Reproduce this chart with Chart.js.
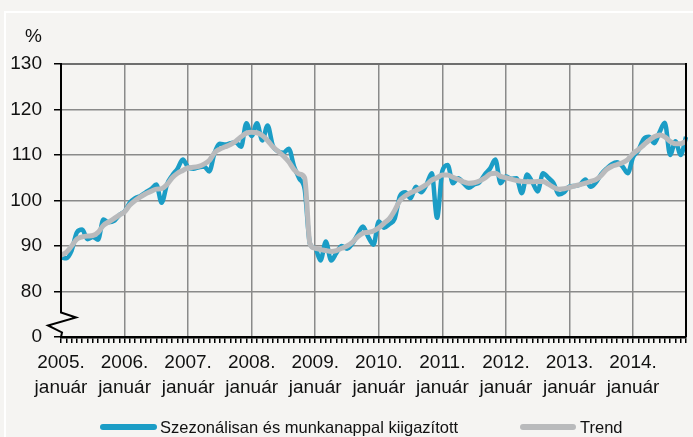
<!DOCTYPE html>
<html>
<head>
<meta charset="utf-8">
<script src="https://cdn.jsdelivr.net/npm/chart.js@4/dist/chart.umd.min.js"></script>
<style>
html,body{margin:0;padding:0;background:#f5f4f2;}
#wrap{width:693px;height:437px;position:relative;}
</style>
</head>
<body>
<div id="wrap"><canvas id="c" width="693" height="437"></canvas></div>
<script>
const years = ['2005','2006','2007','2008','2009','2010','2011','2012','2013','2014'];
const monthCount = 119;
const januaryLabel = 'január';
const yTickLabels = {70:'0',80:'80',90:'90',100:'100',110:'110',120:'120',130:'130'};
const unitLabel = '%';
const seriesNames = ['Szezonálisan és munkanappal kiigazított', 'Trend'];

const seasonallyAdjusted = [
  87.5, 87.3, 89, 93, 93.6, 91.5, 92, 91.4, 95.8, 95.2, 95.5, 96.8,
  97.6, 99.5, 100.5, 101, 101.8, 102.5, 103.5, 99.5, 103.5, 105.5, 107, 109,
  107.3, 107, 107.3, 107.5, 106.4, 110.5, 112.5, 112.3, 112.6, 112.8, 111.8, 117,
  114.2, 117, 113.2, 116.5, 112, 110.8, 110.5, 111.4, 107.5, 104.8, 102.5, 90.5,
  89.5, 86.8, 91, 86.8, 88.5, 90, 89.4, 90.5, 92.5, 94.3, 92, 90.3,
  95.4, 94, 94.8, 96, 101, 101.8, 100.5, 103, 101.8, 103.5, 106, 96.2,
  106.5, 107.8, 103.8, 104.9, 103.8, 102.8, 103.5, 104, 105.7, 107, 109, 103.8,
  105.3, 104.8, 104.9, 101.6, 105.7, 104, 102, 106, 105, 103.8, 101.3, 101.8,
  103.1, 103.2, 103.5, 104.6, 103, 104, 105.8, 107, 108, 108.4, 107.5, 106,
  109.5, 111, 113.5, 114, 112.6, 115, 117.1, 110, 113, 110, 114
];
const trend = [
  88, 88.6, 90, 91.5, 92, 92.2, 92.3, 93, 94.5, 95.3, 96, 96.8,
  97.5, 99, 100, 100.8, 101.5, 102, 102.5, 102.6, 103.5, 105, 106, 106.6,
  107.2, 107.3, 107.5, 108, 108.8, 110.5, 111.3, 111.8, 112.3, 113, 114, 114.8,
  115, 114.9, 114.3, 113.2, 111.8, 110.8, 109.8, 108.5, 106.8, 105.8, 105, 90.5,
  89.5, 89.2, 89, 88.8, 89, 89.5, 90, 90.8, 92, 92.8, 93, 93.3,
  94, 95, 96, 97.8, 100, 101, 101.7, 102.2, 102.8, 103.5, 104.5, 105,
  105.6, 105.6, 105.1, 104.6, 104.1, 103.8, 103.9, 104.3, 104.9, 105.8, 106, 105.3,
  105, 104.7, 104.4, 104.2, 104.1, 104.1, 104.2, 104.2, 103.6, 102.9, 102.5, 102.6,
  102.9, 103.2, 103.5, 103.8, 104.2, 104.6, 105.5, 106.8, 107.5, 107.9, 108.3, 109,
  110.3, 111.2, 112.2, 113.2, 114, 114.4, 114, 113, 112.5, 112.5, 113
];

const categories = [];
for (const y of years) for (let m = 1; m <= 12; m++) categories.push(y + '-' + String(m).padStart(2,'0'));
categories.length = monthCount;

const BLUE = '#1b9dc6';
const GRAY = '#b9babc';
const GRID = '#8a8a8a';
const FONT = "'Liberation Sans', Arial, sans-serif";

const framePlugin = {
  id: 'frame',
  beforeDraw(chart) {
    const ctx = chart.ctx;
    ctx.save();
    ctx.fillStyle = '#f5f4f2';
    ctx.fillRect(0, 0, chart.width, chart.height);
    ctx.strokeStyle = '#ffffff';
    ctx.lineWidth = 2;
    ctx.strokeRect(5, 12, chart.width + 20, chart.height + 20);
    ctx.restore();
  },
  afterDraw(chart) {
    const ctx = chart.ctx;
    const a = chart.chartArea;
    const ys = chart.scales.y;
    ctx.save();
    ctx.strokeStyle = '#6e6e6e';
    ctx.lineWidth = 2;
    ctx.beginPath(); ctx.moveTo(a.left, a.top); ctx.lineTo(a.right, a.top); ctx.stroke();
    ctx.strokeStyle = '#000';
    ctx.lineWidth = 2;
    ctx.beginPath(); ctx.moveTo(a.right, a.top - 1); ctx.lineTo(a.right, a.bottom); ctx.stroke();
    const y80 = ys.getPixelForValue(80);
    const yb = a.bottom;
    const L = a.left;
    const brkTop = y80 + (yb - y80) * 0.46;
    ctx.lineWidth = 2;
    ctx.lineJoin = 'miter';
    ctx.beginPath();
    ctx.moveTo(L, a.top - 1);
    ctx.lineTo(L, brkTop);
    ctx.lineTo(L + 15, brkTop + 5);
    ctx.lineTo(L - 13, brkTop + 13);
    ctx.lineTo(L + 1, brkTop + 20);
    ctx.lineTo(L, yb);
    ctx.stroke();
    ctx.fillStyle = '#111';
    ctx.font = '19px ' + FONT;
    ctx.textAlign = 'right';
    ctx.textBaseline = 'middle';
    ctx.fillText(unitLabel, 42, 37);
    const ds = chart.data.datasets;
    const items = [
      {x1: 100, x2: 157, tx: 160, d: ds[0]},
      {x1: 520, x2: 576, tx: 580, d: ds[1]}
    ];
    const ly = 427;
    ctx.font = '16.5px ' + FONT;
    ctx.textAlign = 'left';
    for (const it of items) {
      ctx.strokeStyle = it.d.borderColor;
      ctx.lineWidth = 6;
      ctx.lineCap = 'round';
      ctx.beginPath(); ctx.moveTo(it.x1 + 3, ly); ctx.lineTo(it.x2 - 3, ly); ctx.stroke();
      ctx.fillStyle = '#111';
      ctx.fillText(it.d.label, it.tx, ly + 1);
    }
    ctx.restore();
  }
};

new Chart(document.getElementById('c'), {
  type: 'line',
  data: {
    labels: categories,
    datasets: [
      {label: seriesNames[0], data: seasonallyAdjusted, borderColor: BLUE, backgroundColor: BLUE,
       borderWidth: 4.5, pointRadius: 0, cubicInterpolationMode: 'monotone', order: 1},
      {label: seriesNames[1], data: trend, borderColor: GRAY, backgroundColor: GRAY,
       borderWidth: 5, pointRadius: 0, cubicInterpolationMode: 'monotone', order: 0}
    ]
  },
  options: {
    responsive: false,
    animation: false,
    devicePixelRatio: 1,
    layout: {padding: {top: 64, right: 2, bottom: 0, left: 0}},
    plugins: {legend: {display: false}, tooltip: {enabled: false}},
    scales: {
      x: {
        type: 'category',
        offset: false,
        afterFit: s => { s.height = 100; },
        border: {display: true, color: '#000', width: 2.5},
        grid: {
          color: c => (c.index > 0 && c.index % 12 === 0) ? GRID : 'rgba(0,0,0,0)',
          lineWidth: 1.5,
          drawTicks: true,
          tickLength: 6,
          tickColor: '#000',
          tickWidth: 1.5
        },
        ticks: {
          autoSkip: false,
          maxRotation: 0,
          minRotation: 0,
          padding: 7,
          color: '#111',
          font: {family: FONT, size: 19, lineHeight: 1.32},
          callback: function(v, i) {
            const lab = this.getLabelForValue(v);
            return lab.endsWith('-01') ? [lab.slice(0,4) + '.', januaryLabel] : '';
          }
        }
      },
      y: {
        min: 70, max: 130,
        afterFit: s => { s.width = 61; },
        border: {display: false},
        grid: {
          color: c => c.tick.value === 70 ? 'rgba(0,0,0,0)' : (c.tick.value === 130 ? '#6e6e6e' : GRID),
          lineWidth: 1.5,
          tickLength: 7,
          tickColor: '#000',
          tickWidth: 1.5
        },
        ticks: {
          stepSize: 10,
          padding: 12,
          color: '#111',
          font: {family: FONT, size: 19},
          callback: v => yTickLabels[v] !== undefined ? yTickLabels[v] : ''
        }
      }
    }
  },
  plugins: [framePlugin]
});
</script>
</body>
</html>
